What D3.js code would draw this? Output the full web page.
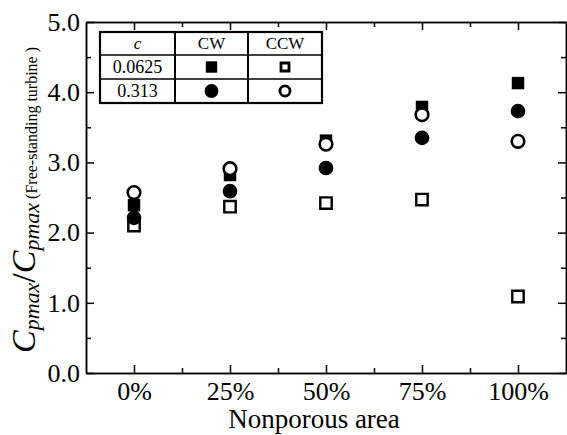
<!DOCTYPE html>
<html>
<head>
<meta charset="utf-8">
<script src="https://cdn.jsdelivr.net/npm/d3@7"></script>
<style>
  html, body { margin: 0; padding: 0; background: #fff; }
  svg { display: block; }
  .axis path, .axis line { stroke: #000; stroke-width: 1.5; }
  .axis text { fill: #000; font-size: 26px; }
</style>
</head>
<body>
<svg id="chart" width="567" height="435"></svg>
<script>
const categories = ['0%', '25%', '50%', '75%', '100%'];
const yTicks = [0, 1, 2, 3, 4, 5];

// Cpmax ratio, c = 0.0625
const cw0625 = [2.39, 2.82, 3.31, 3.79, 4.13];
const ccw0625 = [2.10, 2.37, 2.42, 2.47, 1.09];
// Cpmax ratio, c = 0.313
const cw313 = [2.21, 2.59, 2.92, 3.35, 3.73];
const ccw313 = [2.57, 2.91, 3.26, 3.68, 3.30];

const legendRows = ['0.0625', '0.313'];
const legendCols = ['CW', 'CCW'];

const serif = "'Liberation Serif', 'Times New Roman', Times, serif";
const margin = { left: 86, right: 1, top: 22, bottom: 62 };
const width = 567;
const height = 435;

const svg = d3.select('#chart')
  .attr('font-family', serif);

const x = d3.scaleLinear()
  .domain([-0.5, categories.length - 0.5])
  .range([margin.left, width - margin.right]);
const y = d3.scaleLinear()
  .domain([0, 5])
  .range([height - margin.bottom, margin.top]);

const majorX = d3.range(categories.length);
const minorX = d3.range(categories.length - 1).map(d => d + 0.5);
const minorY = d3.range(0.5, 5, 1);

// frame axes, ticks point inward
const drawAxis = (axisFn, scale, ticks, size, tx, ty, labels, pad) => {
  const a = axisFn(scale)
    .tickValues(ticks)
    .tickSizeInner(size)
    .tickSizeOuter(0)
    .tickPadding(pad || 8);
  if (labels) a.tickFormat(labels); else a.tickFormat('');
  return svg.append('g')
    .classed('axis', true)
    .attr('transform', `translate(${tx},${ty})`)
    .call(a)
    .attr('font-family', serif)
    .attr('font-size', 26);
};

drawAxis(d3.axisBottom, x, majorX, -8, 0, y(0), i => categories[i], 9);
drawAxis(d3.axisBottom, x, minorX, -5, 0, y(0));
drawAxis(d3.axisTop, x, majorX, -8, 0, y(5));
drawAxis(d3.axisTop, x, minorX, -5, 0, y(5));
drawAxis(d3.axisLeft, y, yTicks, -8, x.range()[0], 0, d => d.toFixed(1), 6);
drawAxis(d3.axisLeft, y, minorY, -5, x.range()[0], 0);
drawAxis(d3.axisRight, y, yTicks, -8, x.range()[1], 0);
drawAxis(d3.axisRight, y, minorY, -5, x.range()[1], 0);

// markers
const series = [
  { values: ccw0625, type: d3.symbolSquare, size: 130, fill: '#fff', stroke: 2.4 },
  { values: cw0625, type: d3.symbolSquare, size: 155, fill: '#000', stroke: 0 },
  { values: cw313, type: d3.symbolCircle, size: 170, fill: '#000', stroke: 0 },
  { values: ccw313, type: d3.symbolCircle, size: 125, fill: '#fff', stroke: 2.6 }
];

series.forEach(s => {
  svg.append('g')
    .selectAll('path')
    .data(s.values)
    .join('path')
    .attr('transform', (d, i) => `translate(${x(i)},${y(d)})`)
    .attr('d', d3.symbol().type(s.type).size(s.size))
    .attr('fill', s.fill)
    .attr('stroke', '#000')
    .attr('stroke-width', s.stroke);
});

// legend table
const colX = [100, 175, 248, 322];
const rowY = [32, 55, 79, 103];
const table = svg.append('g');

table.append('rect')
  .attr('x', colX[0]).attr('y', rowY[0])
  .attr('width', colX[3] - colX[0]).attr('height', rowY[3] - rowY[0])
  .attr('fill', '#fff').attr('stroke', '#000').attr('stroke-width', 2.2);
colX.slice(1, 3).forEach(cx => {
  table.append('line')
    .attr('x1', cx).attr('x2', cx).attr('y1', rowY[0]).attr('y2', rowY[3])
    .attr('stroke', '#000').attr('stroke-width', 2);
});
rowY.slice(1, 3).forEach(ry => {
  table.append('line')
    .attr('x1', colX[0]).attr('x2', colX[3]).attr('y1', ry).attr('y2', ry)
    .attr('stroke', '#000').attr('stroke-width', 1.5);
});

const cellX = i => (colX[i] + colX[i + 1]) / 2;
const cellY = j => (rowY[j] + rowY[j + 1]) / 2;

const headers = ['c'].concat(legendCols);
table.selectAll('.hdr')
  .data(headers)
  .join('text')
  .attr('x', (d, i) => cellX(i))
  .attr('y', cellY(0))
  .attr('dy', '0.35em')
  .attr('text-anchor', 'middle')
  .attr('font-size', 17)
  .attr('font-style', (d, i) => i === 0 ? 'italic' : 'normal')
  .text(d => d);

table.selectAll('.row')
  .data(legendRows)
  .join('text')
  .attr('x', cellX(0))
  .attr('y', (d, j) => cellY(j + 1))
  .attr('dy', '0.35em')
  .attr('text-anchor', 'middle')
  .attr('font-size', 18)
  .text(d => d);

const legendMarks = [
  { col: 1, row: 1, type: d3.symbolSquare, size: 130, fill: '#000', stroke: 0 },
  { col: 2, row: 1, type: d3.symbolSquare, size: 64, fill: '#fff', stroke: 2.8 },
  { col: 1, row: 2, type: d3.symbolCircle, size: 150, fill: '#000', stroke: 0 },
  { col: 2, row: 2, type: d3.symbolCircle, size: 80, fill: '#fff', stroke: 2.8 }
];
table.selectAll('.mark')
  .data(legendMarks)
  .join('path')
  .attr('transform', d => `translate(${cellX(d.col)},${cellY(d.row)})`)
  .attr('d', d => d3.symbol().type(d.type).size(d.size)())
  .attr('fill', d => d.fill)
  .attr('stroke', '#000')
  .attr('stroke-width', d => d.stroke);

// axis titles
svg.append('text')
  .attr('x', 314)
  .attr('y', 428)
  .attr('text-anchor', 'middle')
  .attr('font-size', 27)
  .text('Nonporous area');

const yTitle = svg.append('text')
  .attr('transform', 'translate(35,200) rotate(-90)')
  .attr('text-anchor', 'middle');
yTitle.append('tspan').attr('font-size', 34).attr('font-style', 'italic').text('C');
yTitle.append('tspan').attr('font-size', 22).attr('font-style', 'italic').attr('dy', 4).text('pmax');
yTitle.append('tspan').attr('font-size', 34).attr('dy', -4).text('/');
yTitle.append('tspan').attr('font-size', 34).attr('font-style', 'italic').text('C');
yTitle.append('tspan').attr('font-size', 22).attr('font-style', 'italic').attr('dy', 4).text('pmax');
yTitle.append('tspan').attr('font-size', 16).attr('dy', -2).text(' (Free-standing turbine )');
</script>
</body>
</html>
